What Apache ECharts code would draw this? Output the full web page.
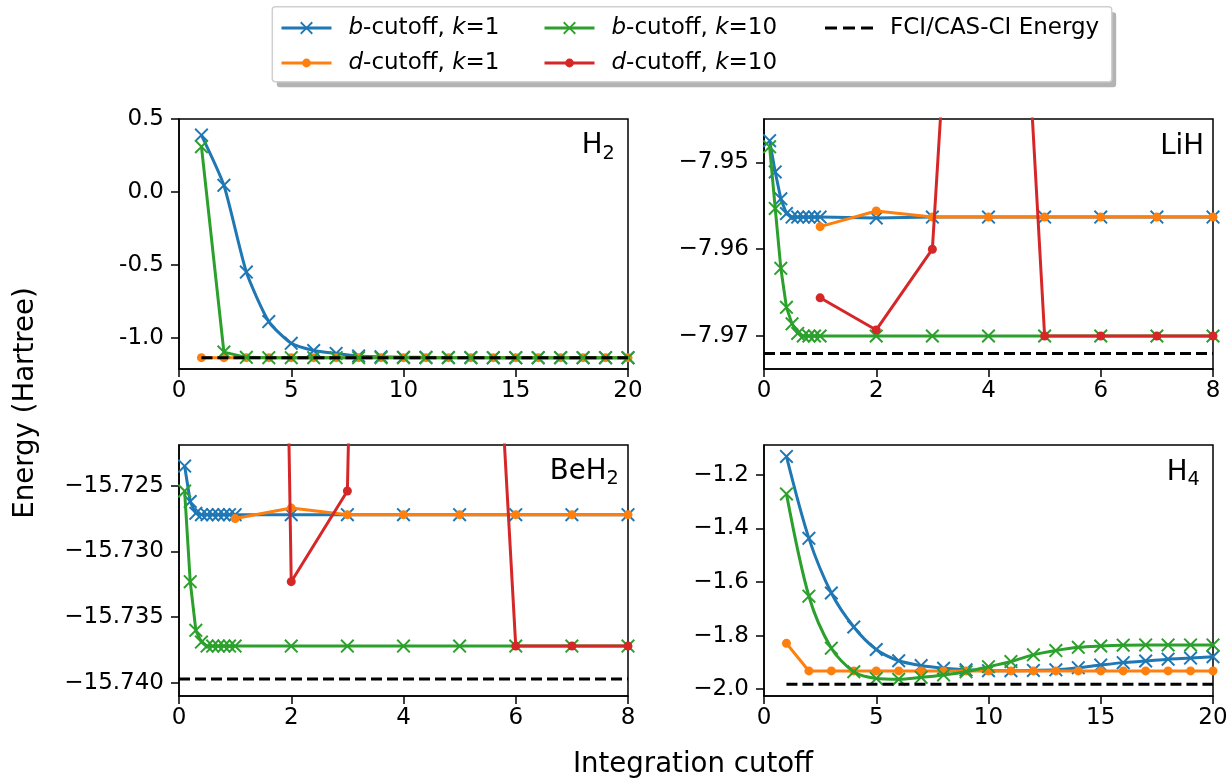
<!DOCTYPE html>
<html>
<head>
<meta charset="utf-8">
<script src="https://cdn.jsdelivr.net/npm/echarts@6/dist/echarts.min.js"></script>
<style>
  html, body { margin: 0; padding: 0; background: #fff; }
  #chart { width: 1230px; height: 778px; }
</style>
</head>
<body>
<div id="chart"></div>
<script>
// ---- data ----
const h2X = [1, 2, 3, 4, 5, 6, 7, 8, 9, 10, 11, 12, 13, 14, 15, 16, 17, 18, 19, 20];
const h2BK1 = [0.39, 0.045, -0.55, -0.89, -1.039, -1.088, -1.108, -1.125, -1.131, -1.134, -1.135, -1.136, -1.136, -1.137, -1.137, -1.137, -1.137, -1.137, -1.137, -1.137];
const h2BK10 = [0.31, -1.099, -1.135, -1.137, -1.137, -1.137, -1.137, -1.137, -1.137, -1.137, -1.137, -1.137, -1.137, -1.137, -1.137, -1.137, -1.137, -1.137, -1.137, -1.137];
const h2DK1 = [-1.137, -1.137, -1.137, -1.137, -1.137, -1.137, -1.137, -1.137, -1.137, -1.137, -1.137, -1.137, -1.137, -1.137, -1.137, -1.137, -1.137, -1.137, -1.137, -1.137];
const h2FciX = [1, 20];
const h2Fci = [-1.137, -1.137];

const liX = [0.1, 0.2, 0.3, 0.4, 0.5, 0.6, 0.7, 0.8, 0.9, 1.0, 2, 3, 4, 5, 6, 7, 8];
const liBK1 = [-7.9475, -7.9511, -7.9542, -7.9559, -7.9563, -7.9563, -7.9563, -7.9563, -7.9563, -7.9563, -7.9564, -7.9563, -7.9563, -7.9563, -7.9563, -7.9563, -7.9563];
const liBK10 = [-7.9482, -7.9553, -7.9622, -7.9667, -7.9686, -7.9697, -7.9700, -7.9700, -7.9700, -7.9700, -7.9700, -7.9700, -7.9700, -7.9700, -7.9700, -7.9700, -7.9700];
const liDX = [1, 2, 3, 4, 5, 6, 7, 8];
const liDK1 = [-7.9574, -7.9556, -7.9563, -7.9563, -7.9563, -7.9563, -7.9563, -7.9563];
const liDK10 = [-7.9656, -7.9693, -7.9600, -7.855, -7.9700, -7.9700, -7.9700, -7.9700];
const liFciX = [0, 8];
const liFci = [-7.972, -7.972];

const beX = [0.1, 0.2, 0.3, 0.4, 0.5, 0.6, 0.7, 0.8, 0.9, 1.0, 2, 3, 4, 5, 6, 7, 8];
const beBK1 = [-15.7235, -15.7262, -15.7271, -15.7272, -15.7272, -15.7272, -15.7272, -15.7272, -15.7272, -15.7272, -15.7272, -15.7272, -15.7272, -15.7272, -15.7272, -15.7272, -15.7272];
const beBK10 = [-15.7254, -15.7323, -15.7360, -15.7369, -15.7372, -15.7372, -15.7372, -15.7372, -15.7372, -15.7372, -15.7372, -15.7372, -15.7372, -15.7372, -15.7372, -15.7372, -15.7372];
const beDX = [1, 2, 3, 4, 5, 6, 7, 8];
const beDK1 = [-15.7275, -15.7267, -15.7272, -15.7272, -15.7272, -15.7272, -15.7272, -15.7272];
const beDK10 = [-15.472, -15.7323, -15.7254, -15.53, -15.661, -15.7372, -15.7372, -15.7372];
const beFciX = [0, 8];
const beFci = [-15.7397, -15.7397];

const h4X = [1, 2, 3, 4, 5, 6, 7, 8, 9, 10, 11, 12, 13, 14, 15, 16, 17, 18, 19, 20];
const h4BK1 = [-1.131, -1.437, -1.641, -1.768, -1.852, -1.894, -1.912, -1.922, -1.928, -1.931, -1.931, -1.930, -1.928, -1.920, -1.910, -1.901, -1.895, -1.888, -1.884, -1.879];
const h4BK10 = [-1.271, -1.653, -1.847, -1.935, -1.960, -1.963, -1.956, -1.947, -1.935, -1.916, -1.897, -1.872, -1.856, -1.844, -1.839, -1.836, -1.835, -1.835, -1.835, -1.835];
const h4DK1 = [-1.829, -1.932, -1.932, -1.932, -1.932, -1.932, -1.932, -1.932, -1.932, -1.932, -1.932, -1.932, -1.932, -1.932, -1.932, -1.932, -1.932, -1.932, -1.932, -1.932];
const h4FciX = [1, 20];
const h4Fci = [-1.982, -1.982];

const yTicks = [
    [-1.0, -0.5, 0.0, 0.5],
    [-7.97, -7.96, -7.95],
    [-15.740, -15.735, -15.730, -15.725],
    [-2.0, -1.8, -1.6, -1.4, -1.2]
];
const yRanges = [[-1.215, 0.5], [-7.9738, -7.945], [-15.741, -15.7219], [-2.0256, -1.0884]];
const xMax = [20, 8, 8, 20];
const xStep = [5, 2, 2, 5];

const NAMES = ["b-cutoff, k=1", "d-cutoff, k=1", "b-cutoff, k=10", "d-cutoff, k=10", "FCI/CAS-CI Energy"];
const COLORS = ["#1f77b4", "#ff7f0e", "#2ca02c", "#d62728", "#000000"];

// ---- helpers ----
const FONT = "DejaVu Sans";
const FS = 23;      // ticks, legend
const FS_BIG = 27.6; // axis names, molecule labels
const X_MARK = "path://M0,1L1,0L5,4L9,0L10,1L6,5L10,9L9,10L5,6L1,10L0,9L4,5Z";
const DASH_ICON = "path://M0,0h12v3h-12z M18,0h12v3h-12z M36,0h12v3h-12z";
const pairs = (xs, ys) => xs.map((x, i) => [x, ys[i]]);

const grids = [
    { left: 179, top: 119, width: 449, height: 250 },
    { left: 764, top: 119, width: 449, height: 250 },
    { left: 179, top: 445, width: 449, height: 251 },
    { left: 764, top: 445, width: 449, height: 251 }
];

const minus = s => s.replace("-", "\u2212");
const yFmt = [
    v => v.toFixed(1),
    v => minus(v.toFixed(2)),
    v => minus(v.toFixed(3)),
    v => minus(v.toFixed(1))
];

function mkSeries(k, gi, xs, ys, extra) {
    const isB = k === 0 || k === 2;
    const isFci = k === 4;
    return Object.assign({
        name: NAMES[k],
        type: "line",
        xAxisIndex: gi,
        yAxisIndex: gi,
        data: pairs(xs, ys),
        symbol: isFci ? "none" : (isB ? X_MARK : "circle"),
        symbolSize: isB ? 14 : 9,
        showAllSymbol: true,
        clip: true,
        animation: false,
        z: isFci ? 5 : 2 + k * 0.1,
        lineStyle: { color: COLORS[k], width: 3, type: isFci ? [11, 5] : "solid" },
        itemStyle: { color: COLORS[k] },
        emphasis: { disabled: true }
    }, extra || {});
}

const series = [
    mkSeries(0, 0, h2X, h2BK1, { smooth: 0.2 }),
    mkSeries(1, 0, h2X, h2DK1),
    mkSeries(2, 0, h2X, h2BK10),
    mkSeries(4, 0, h2FciX, h2Fci),

    mkSeries(0, 1, liX, liBK1),
    mkSeries(1, 1, liDX, liDK1),
    mkSeries(2, 1, liX, liBK10),
    mkSeries(3, 1, liDX, liDK10),
    mkSeries(4, 1, liFciX, liFci),

    mkSeries(0, 2, beX, beBK1),
    mkSeries(1, 2, beDX, beDK1),
    mkSeries(2, 2, beX, beBK10),
    mkSeries(3, 2, beDX, beDK10),
    mkSeries(4, 2, beFciX, beFci),

    mkSeries(0, 3, h4X, h4BK1, { smooth: 0.3 }),
    mkSeries(1, 3, h4X, h4DK1),
    mkSeries(2, 3, h4X, h4BK10, { smooth: 0.3 }),
    mkSeries(4, 3, h4FciX, h4Fci)
];

const axisLineStyle = { color: "#000", width: 1.5 };

const xAxes = grids.map((g, i) => ({
    type: "value",
    gridIndex: i,
    min: 0,
    max: xMax[i],
    interval: xStep[i],
    axisLine: { show: true, onZero: false, lineStyle: axisLineStyle },
    axisTick: { show: true, length: 8, lineStyle: axisLineStyle },
    axisLabel: { fontSize: FS, fontFamily: FONT, color: "#000", margin: 11 },
    splitLine: { show: false }
}));

const yAxes = grids.map((g, i) => ({
    type: "value",
    gridIndex: i,
    min: yRanges[i][0],
    max: yRanges[i][1],
    axisLine: { show: true, onZero: false, lineStyle: axisLineStyle },
    axisTick: { show: true, length: 8, lineStyle: axisLineStyle, customValues: yTicks[i] },
    axisLabel: {
        fontSize: FS, fontFamily: FONT, color: "#000", margin: 15,
        customValues: yTicks[i],
        formatter: yFmt[i]
    },
    splitLine: { show: false }
}));

const legendRich = {
    g: { width: 12 },
    i: { fontStyle: "italic", fontSize: FS, fontFamily: FONT, color: "#000" }
};
const legendFmt = name => "{g|}" + name.replace(/^([bd])/, "{i|$1}").replace("k=", "{i|k}=");

// legend slots: [index in NAMES, left, row centre y]
const legendSlots = [[0, 280, 26], [1, 280, 61], [2, 543, 26], [3, 543, 61], [4, 825, 26]];
const legends = legendSlots.map(([k, left, cy]) => {
    const isB = k === 0 || k === 2;
    const isFci = k === 4;
    return {
        data: [isFci ? { name: NAMES[k], icon: DASH_ICON } : NAMES[k]],
        left: left,
        top: cy - 12,
        padding: 0,
        itemWidth: isFci ? 48 : 50,
        itemHeight: isFci ? 3 : (isB ? 16 : 11),
        selectedMode: false,
        formatter: legendFmt,
        lineStyle: { width: 3 },
        textStyle: { fontSize: FS, fontFamily: FONT, color: "#000", lineHeight: 28, rich: legendRich }
    };
});

function subLabel(main, sub, right, baseline) {
    const els = [];
    const subW = sub ? 12.5 : 0;
    els.push({
        type: "text", z: 10,
        style: { text: main, x: right - subW, y: baseline - 8.2, align: "right", verticalAlign: "middle",
                 fontSize: FS_BIG, fontFamily: FONT, fill: "#000" }
    });
    if (sub) {
        els.push({
            type: "text", z: 10,
            style: { text: sub, x: right - subW, y: baseline - 0.8, align: "left", verticalAlign: "middle",
                     fontSize: 19.3, fontFamily: FONT, fill: "#000" }
        });
    }
    return els;
}

const graphics = [
    { type: "rect", z: 0, shape: { x: 276.8, y: 12.2, width: 839.4, height: 75, r: 3 }, style: { fill: "#b3b3b3" } },
    { type: "rect", z: 1, shape: { x: 272.3, y: 6.7, width: 839.4, height: 75, r: 3 }, style: { fill: "#fff", stroke: "#d0d0d0", lineWidth: 1.5 } },
    { type: "text", z: 10, style: { text: "Integration cutoff", x: 693, y: 764.5, align: "center", verticalAlign: "middle", fontSize: FS_BIG, fontFamily: FONT, fill: "#000" } },
    { type: "text", z: 10, x: 26, y: 403, rotation: Math.PI / 2, style: { text: "Energy (Hartree)", x: 0, y: 0, align: "center", verticalAlign: "middle", fontSize: FS_BIG, fontFamily: FONT, fill: "#000" } }
]
    .concat(subLabel("H", "2", 615, 154.5))
    .concat(subLabel("LiH", "", 1204, 155))
    .concat(subLabel("BeH", "2", 619, 480))
    .concat(subLabel("H", "4", 1200, 481));

const chart = echarts.init(document.getElementById("chart"), null, { renderer: "canvas" });
chart.setOption({
    animation: false,
    backgroundColor: "#fff",
    textStyle: { fontFamily: FONT },
    grid: grids.map(g => Object.assign({ show: true, borderColor: "#000", borderWidth: 1.5, backgroundColor: "transparent", outerBoundsMode: "none" }, g)),
    xAxis: xAxes,
    yAxis: yAxes,
    legend: legends,
    graphic: graphics,
    series: series
});
</script>
</body>
</html>
